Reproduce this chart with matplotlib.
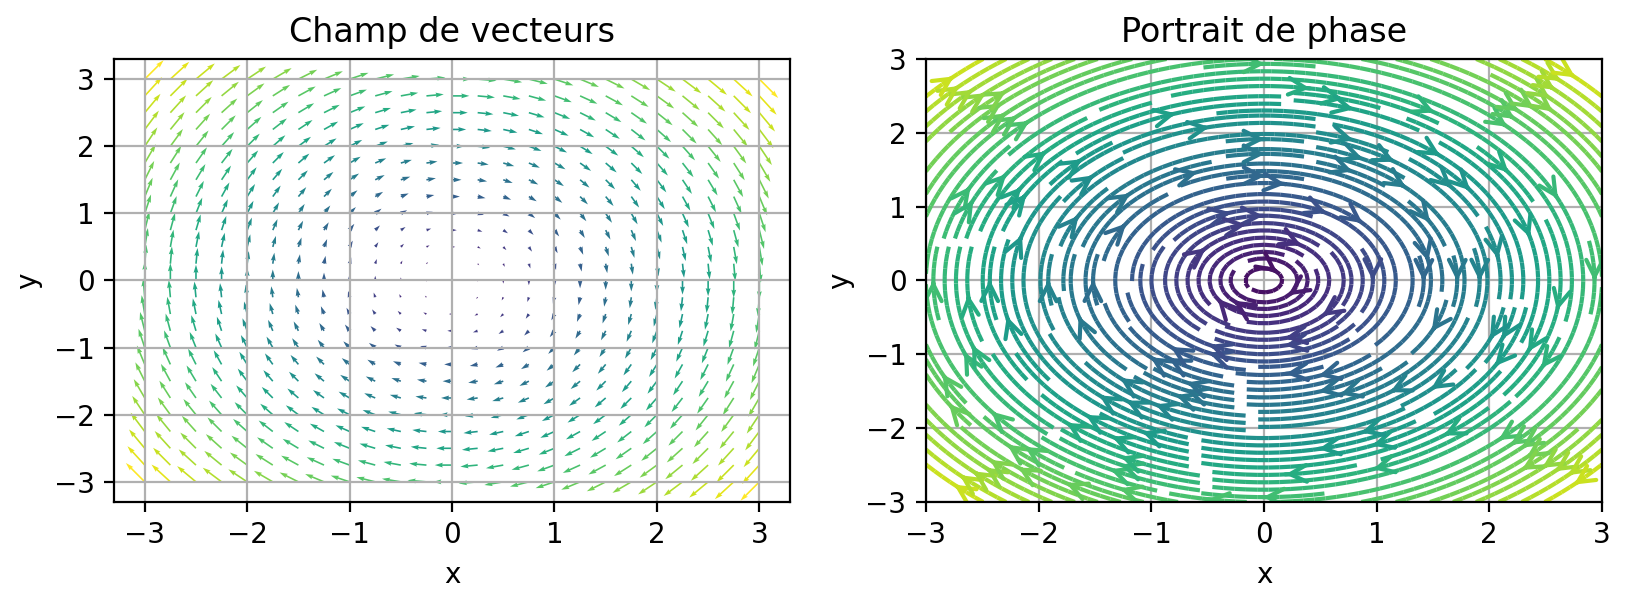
import numpy as np
import matplotlib
matplotlib.use("Agg")
import matplotlib.pyplot as plt

# grid values
x_q = np.arange(-3, 3.01, 0.25)
y_q = np.arange(-3, 3.01, 0.25)
x_s = np.linspace(-3, 3, 25)
y_s = np.linspace(-3, 3, 25)

Xq, Yq = np.meshgrid(x_q, y_q)
Uq, Vq = Yq, -Xq
Sq = np.sqrt(Uq**2 + Vq**2)

Xs, Ys = np.meshgrid(x_s, y_s)
Us, Vs = Ys, -Xs
Ss = np.sqrt(Us**2 + Vs**2)

fig = plt.figure(figsize=(8.145, 3.015), dpi=200)
ax1 = fig.add_axes([0.070, 0.1675, 0.415, 0.7347])
ax2 = fig.add_axes([0.5684, 0.1675, 0.415, 0.7347])

ax1.quiver(Xq, Yq, Uq, Vq, Sq, cmap='viridis')
ax1.set_title('Champ de vecteurs')
ax1.set_xlabel('x')
ax1.set_ylabel('y')
ax1.grid(True)

ax2.streamplot(Xs, Ys, Us, Vs, color=Ss, cmap='viridis', density=2,
               linewidth=1.5, arrowstyle='->', arrowsize=1.5)
ax2.set_title('Portrait de phase')
ax2.set_xlabel('x')
ax2.set_ylabel('y')
ax2.grid(True)

fig.savefig('out.png', dpi=200)
